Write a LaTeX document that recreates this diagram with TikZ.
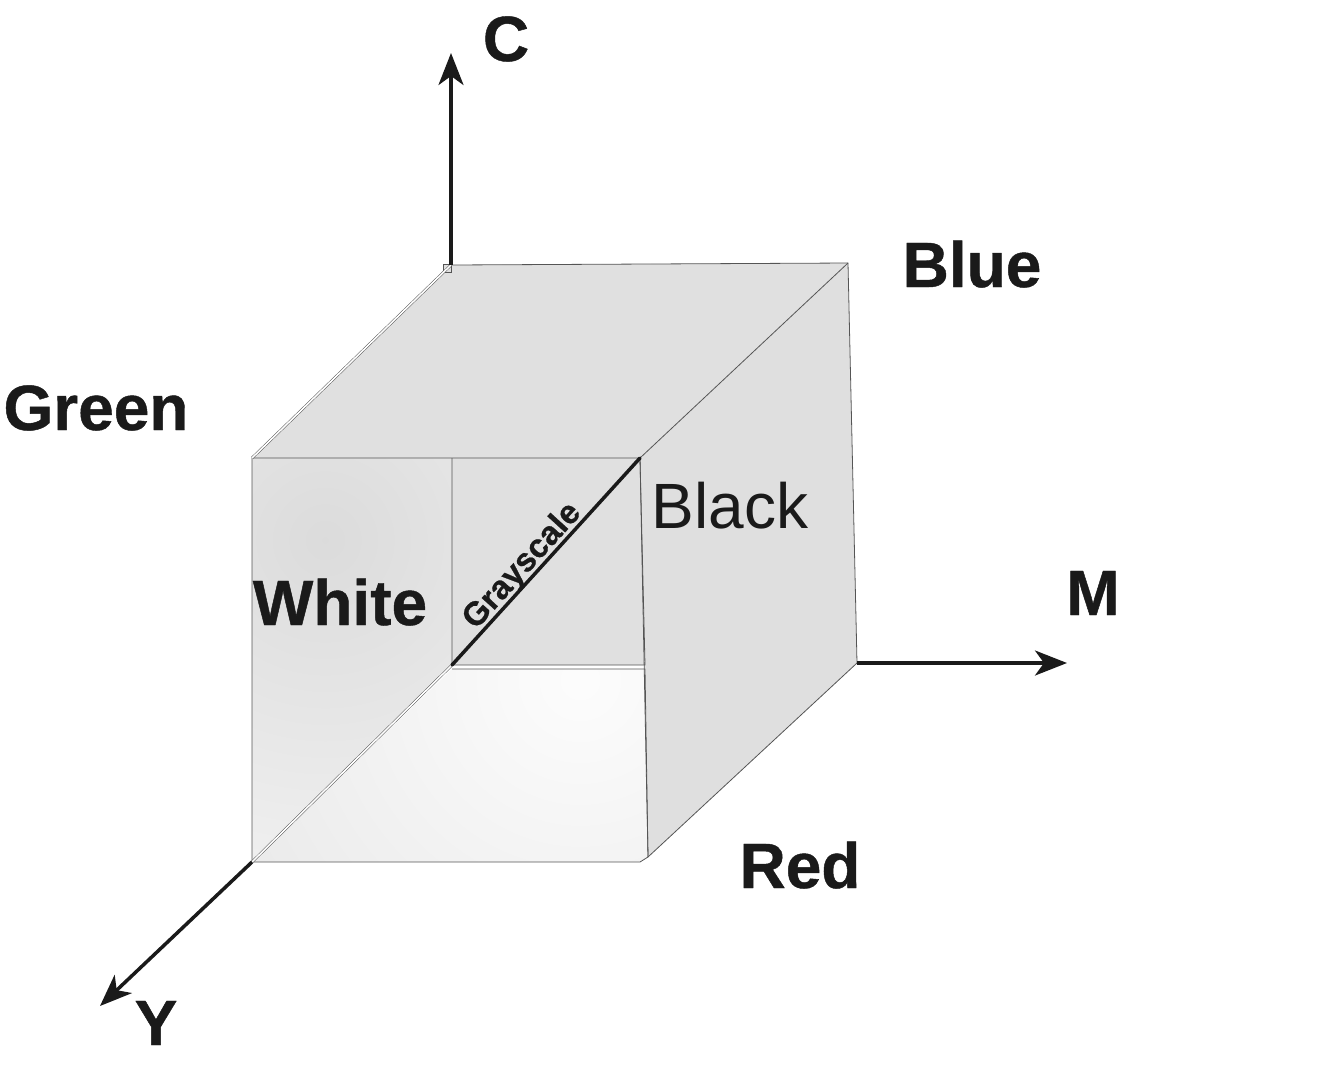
\documentclass[tikz,border=0pt]{standalone}
\usepackage{fontspec}
\setmainfont{Liberation Sans}[BoldFeatures={FakeBold=0.7}]
\usetikzlibrary{arrows.meta}
\definecolor{face}{HTML}{E0E0E0}
\definecolor{rface}{HTML}{DFDFDF}
\definecolor{edgec}{HTML}{555555}
\definecolor{ink}{HTML}{1A1A1A}
\begin{document}
\begin{tikzpicture}[x=1pt,y=-1pt,
  edge/.style={draw=edgec, line width=0.8pt},
  dbl/.style={draw=edgec, line width=0.5pt, double=white, double distance=1.6pt},
  axis/.style={line width=3.5pt, draw=ink, -{Stealth[length=32pt,width=25pt,inset=9pt]}},
  lab/.style={font=\bfseries\fontsize{64}{64}\selectfont, anchor=base, text=ink, inner sep=0pt},
  labn/.style={font=\fontsize{64}{64}\selectfont, anchor=base, text=ink, inner sep=0pt},
]
\useasboundingbox (0,0) rectangle (1320,1072);
% corners
\coordinate (O) at (451,265);
\coordinate (TR) at (848,263);
\coordinate (FL) at (252,458);
\coordinate (FR) at (640,458);
\coordinate (BR) at (857,663);
\coordinate (RB) at (648,857);
\coordinate (BC) at (640,862);
\coordinate (BL) at (252,862);
\coordinate (ITL) at (452,458);
\coordinate (IBL) at (452,665);
\coordinate (IBR) at (645,665);
\coordinate (BTL) at (452,669);
\coordinate (BTR) at (645,669);
\coordinate (Ctip) at (451,53);
\coordinate (Mtip) at (1067,663);
\coordinate (Ytip) at (100,1006);

% top face
\path[fill=face] (O) -- (TR) -- (FR) -- (FL) -- cycle;
% right face
\path[fill=rface] (TR) -- (BR) -- (RB) -- (FR) -- cycle;
% left (white) panel
\begin{scope}
  \clip (FL) -- (ITL) -- (IBL) -- (BL) -- cycle;
  \fill[black!4] (FL) rectangle (IBR |- BL);
  \shade[inner color=black!14, outer color=black!4] (325,540) circle (420);
\end{scope}
% bottom panel
\begin{scope}
  \clip (BTL) -- (BTR) -- (RB) -- (BC) -- (BL) -- cycle;
  \shade[inner color=black!1, outer color=black!13] (580,680) circle (640);
\end{scope}
% inner back square
\path[fill=face] (ITL) -- (FR) -- (IBR) -- (IBL) -- cycle;

% edges
\draw[edge, fill=face] (443,264) -- (451,264) -- (451,272) -- (443,272) -- cycle;
\draw[edge] (O) -- (TR) -- (BR) -- (RB) -- (BC) -- (BL) -- (FL) -- (FR);
\draw[edge] (TR) -- (FR) -- (RB);
\draw[edge] (ITL) -- (IBL) -- (IBR) -- (FR);
\draw[edge] (BTL) -- (BTR) -- (RB);
\draw[dbl] (O) -- (FL);
\draw[dbl] (IBL) -- (BL);

% grayscale diagonal
\draw[line width=3.5pt, draw=ink, line cap=round] (IBL) -- (FR);
\node[font=\bfseries\fontsize{33}{33}\selectfont, text=ink, rotate=47.7, anchor=base, inner sep=0pt] (gs) at (529,572) {Grayscale};

% axes
\draw[axis] (O) -- (Ctip);
\draw[axis] (BR) -- (Mtip);
\draw[axis] (BL) -- (Ytip);

% labels
\node[lab] (C) at (506,61) {C};
\node[lab] (Blue) at (972,287) {Blue};
\node[lab] (Green) at (96,430) {Green};
\node[lab] (White) at (340,625) {White};
\node[labn] (Black) at (730,528) {Black};
\node[lab] (M) at (1093,615) {M};
\node[lab] (Red) at (800,888) {Red};
\node[lab] (Y) at (156,1045) {Y};
\end{tikzpicture}
\end{document}
